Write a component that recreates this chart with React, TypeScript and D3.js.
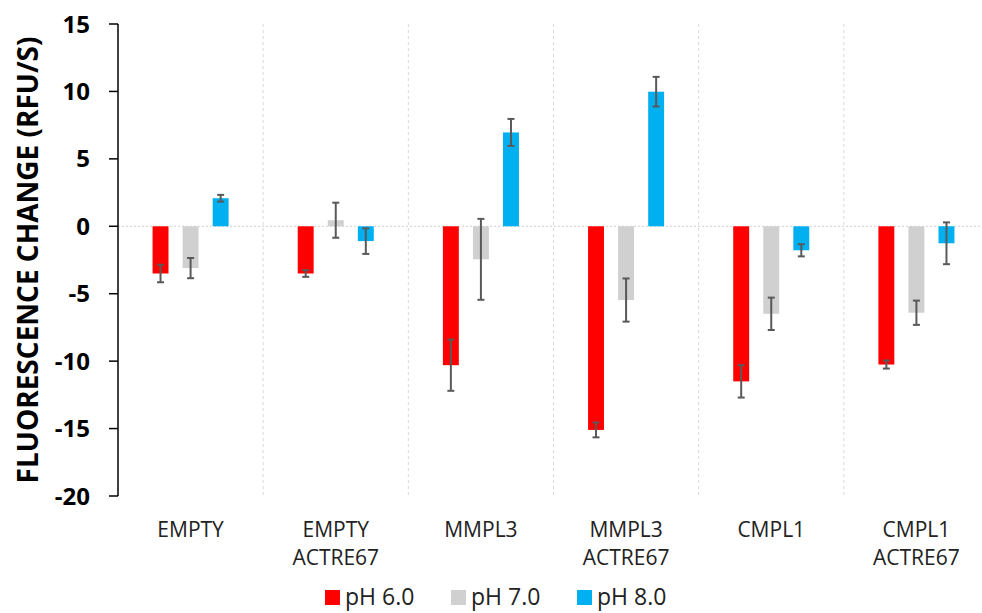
import React from 'react';
import * as d3 from 'd3';

const categories = ['EMPTY', 'EMPTY\nACTRE67', 'MMPL3', 'MMPL3\nACTRE67', 'CMPL1', 'CMPL1\nACTRE67'];
const seriesNames = ['pH 6.0', 'pH 7.0', 'pH 8.0'];
const seriesColors = ['#ff0000', '#d0d0d0', '#00b0f0'];

const ph6 = [-3.5, -3.5, -10.3, -15.1, -11.5, -10.25];
const ph6Err = [0.65, 0.25, 1.9, 0.55, 1.2, 0.3];
const ph7 = [-3.1, 0.45, -2.45, -5.47, -6.49, -6.41];
const ph7Err = [0.75, 1.3, 3.0, 1.6, 1.2, 0.9];
const ph8 = [2.08, -1.1, 6.96, 9.98, -1.78, -1.26];
const ph8Err = [0.25, 0.95, 1.0, 1.1, 0.45, 1.55];

const yTicks = [15, 10, 5, 0, -5, -10, -15, -20];

const W = 982;
const H = 613;

export default function App() {
  const values = [ph6, ph7, ph8];
  const errors = [ph6Err, ph7Err, ph8Err];

  const x0 = d3.scaleBand<string>().domain(categories).range([118, 989]).padding(0);
  const x1 = d3.scaleBand<string>()
    .domain(seriesNames)
    .range([0, x0.bandwidth()])
    .paddingInner(0.47)
    .paddingOuter(1.15);
  const y = d3.scaleLinear().domain([-20, 15]).range([496, 24]);

  const font = '"Open Sans", sans-serif';
  const bw = x1.bandwidth();

  return (
    <svg width={W} height={H} style={{ position: 'absolute', left: 0, top: 0, background: '#fff' }}>
      {/* category separators */}
      {categories.slice(1).map(c => (
        <line key={c} x1={x0(c)} x2={x0(c)} y1={y(15)} y2={y(-20)}
          stroke="#d9d9d9" strokeWidth={1} strokeDasharray="3,3" />
      ))}
      {/* zero line */}
      <line x1={118} x2={W} y1={y(0)} y2={y(0)} stroke="#d0d0d0" strokeWidth={1} strokeDasharray="2,2" />

      {/* bars */}
      {seriesNames.map((s, si) => (
        <g key={s}>
          {categories.map((c, ci) => {
            const v = values[si][ci];
            const bx = (x0(c) ?? 0) + (x1(s) ?? 0);
            return (
              <rect key={c} x={bx} width={bw}
                y={Math.min(y(v), y(0))} height={Math.abs(y(v) - y(0))}
                fill={seriesColors[si]} />
            );
          })}
        </g>
      ))}

      {/* error bars */}
      {seriesNames.map((s, si) => (
        <g key={s} stroke="#595959" strokeWidth={2}>
          {categories.map((c, ci) => {
            const v = values[si][ci];
            const e = errors[si][ci];
            const cx = (x0(c) ?? 0) + (x1(s) ?? 0) + bw / 2;
            return (
              <g key={c}>
                <line x1={cx} x2={cx} y1={y(v + e)} y2={y(v - e)} />
                <line x1={cx - 3.5} x2={cx + 3.5} y1={y(v + e)} y2={y(v + e)} />
                <line x1={cx - 3.5} x2={cx + 3.5} y1={y(v - e)} y2={y(v - e)} />
              </g>
            );
          })}
        </g>
      ))}

      {/* y axis */}
      <line x1={118} x2={118} y1={y(15)} y2={y(-20)} stroke="#000" strokeWidth={1.5} />
      {yTicks.map(t => (
        <g key={t}>
          <line x1={109} x2={118} y1={y(t)} y2={y(t)} stroke="#000" strokeWidth={1.5} />
          <text x={90} y={y(t)} dy="0.36em" textAnchor="end" fontFamily={font}
            fontWeight="bold" fontSize={24} fill="#000">{t}</text>
        </g>
      ))}
      <text transform={`translate(38,${y(-2.5)}) rotate(-90)`} textAnchor="middle"
        fontFamily={font} fontWeight="bold" fontSize={28} fill="#000">
        FLUORESCENCE CHANGE (RFU/S)
      </text>

      {/* category labels */}
      {categories.map(c => {
        const cx = (x0(c) ?? 0) + x0.bandwidth() / 2;
        return (
          <text key={c} textAnchor="middle" fontFamily={font} fontSize={21} fill="#222">
            {c.split('\n').map((line, i) => (
              <tspan key={i} x={cx} y={537 + i * 28}>{line}</tspan>
            ))}
          </text>
        );
      })}

      {/* legend */}
      {seriesNames.map((s, i) => (
        <g key={s} transform={`translate(${325 + i * 126},0)`}>
          <rect x={0} y={590} width={15} height={15} fill={seriesColors[i]} />
          <text x={20} y={605} fontFamily={font} fontSize={23} fill="#222">{s}</text>
        </g>
      ))}
    </svg>
  );
}
